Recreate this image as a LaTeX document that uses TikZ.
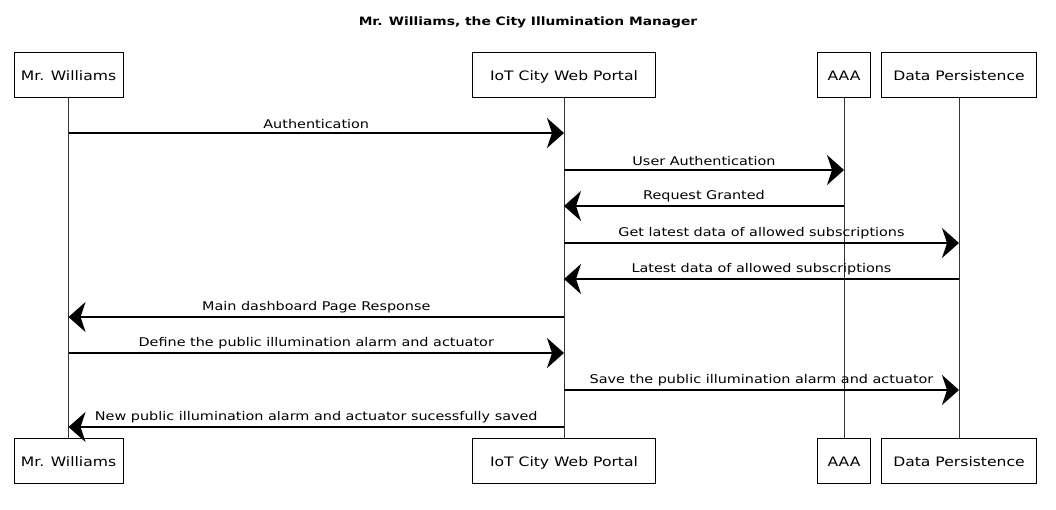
\documentclass[tikz,border=0pt]{standalone}
\usepackage{fontspec}
\setmainfont{DejaVu Sans}
\newfontfamily\handfont[FakeStretch=1.2]{DejaVu Sans}
\usetikzlibrary{arrows.meta,positioning}

\begin{document}
\begin{tikzpicture}[x=1pt,y=-1pt,
    actor/.style={draw,line width=0.9pt,minimum height=45pt,inner sep=0pt,
      text height=11.5pt,text depth=0pt,font=\handfont\fontsize{13}{15}\selectfont},
    msg/.style={line width=1.4pt,-{Stealth[length=17pt,width=30pt,inset=5pt]}},
    lbl/.style={above=0pt,font=\handfont\fontsize{12}{14}\selectfont},
    life/.style={line width=0.8pt,black!80}]
    \useasboundingbox(0,0)rectangle(1056,509);
    \node[font=\handfont\bfseries\fontsize{11.5}{14}\selectfont](title)at(528,22){Mr. Williams, the City Illumination Manager};
    % participants, top and bottom
    \node[actor,minimum width=109pt](wTop)at(68.5,74.5){Mr. Williams};
    \node[actor,minimum width=183pt](pTop)at(564,74.5){IoT City Web Portal};
    \node[actor,minimum width=53pt](aTop)at(844,74.5){AAA};
    \node[actor,minimum width=155pt](dTop)at(959,74.5){Data Persistence};
    \node[actor,minimum width=109pt](wBot)at(68.5,461){Mr. Williams};
    \node[actor,minimum width=183pt](pBot)at(564,461){IoT City Web Portal};
    \node[actor,minimum width=53pt](aBot)at(844,461){AAA};
    \node[actor,minimum width=155pt](dBot)at(959,461){Data Persistence};
    \draw[life](wTop)--(wBot);
    \draw[life](pTop)--(pBot);
    \draw[life](aTop)--(aBot);
    \draw[life](dTop)--(dBot);
    % message levels
    \coordinate(y1)at(0,133);
    \coordinate(y2)at(0,170);
    \coordinate(y3)at(0,206);
    \coordinate(y4)at(0,243);
    \coordinate(y5)at(0,279);
    \coordinate(y6)at(0,317);
    \coordinate(y7)at(0,353);
    \coordinate(y8)at(0,390);
    \coordinate(y9)at(0,427);
    \draw[msg](wTop|-y1)--node[lbl]{Authentication}(pTop|-y1);
    \draw[msg](pTop|-y2)--node[lbl]{User Authentication}(aTop|-y2);
    \draw[msg](aTop|-y3)--node[lbl]{Request Granted}(pTop|-y3);
    \draw[msg](pTop|-y4)--node[lbl]{Get latest data of allowed subscriptions}(dTop|-y4);
    \draw[msg](dTop|-y5)--node[lbl]{Latest data of allowed subscriptions}(pTop|-y5);
    \draw[msg](pTop|-y6)--node[lbl]{Main dashboard Page Response}(wTop|-y6);
    \draw[msg](wTop|-y7)--node[lbl]{Define the public illumination alarm and actuator}(pTop|-y7);
    \draw[msg](pTop|-y8)--node[lbl]{Save the public illumination alarm and actuator}(dTop|-y8);
    \draw[msg](pTop|-y9)--node[lbl]{New public illumination alarm and actuator sucessfully saved}(wTop|-y9);
\end{tikzpicture}
\end{document}
